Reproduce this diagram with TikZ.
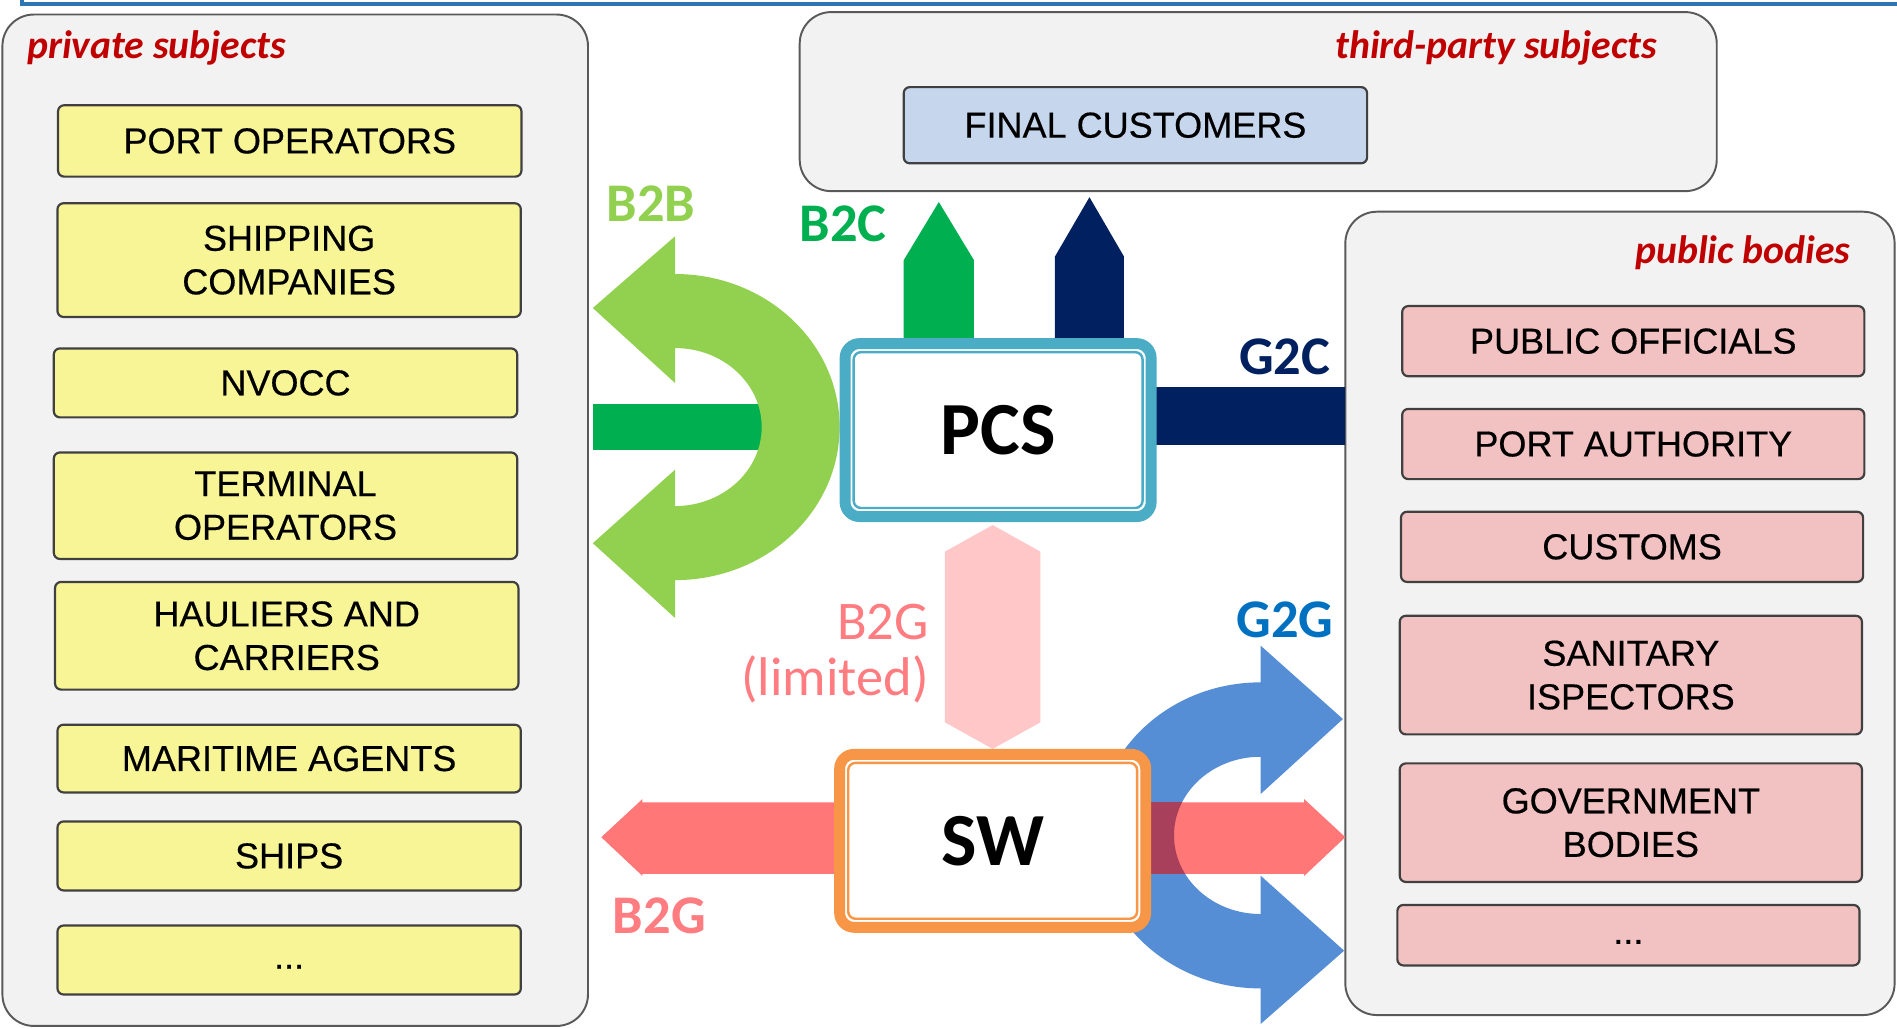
\documentclass[tikz,border=0pt]{standalone}
\usepackage{fontspec}
\setmainfont{Liberation Sans}
\newfontfamily\calibri{Carlito}

\definecolor{panelgray}{HTML}{F2F2F2}
\definecolor{titlered}{HTML}{C00000}
\definecolor{privyellow}{HTML}{F7F596}
\definecolor{pubpink}{HTML}{F2C1C1}
\definecolor{custblue}{HTML}{C6D6EC}
\definecolor{pcsblue}{HTML}{4BACC6}
\definecolor{sworange}{HTML}{F79646}
\definecolor{b2bgreen}{HTML}{92D050}
\definecolor{b2cgreen}{HTML}{00B050}
\definecolor{navy}{HTML}{002060}
\definecolor{b2gred}{HTML}{FF7777}
\definecolor{b2gpink}{HTML}{FFC7C7}
\definecolor{b2gtext}{HTML}{FF7C80}
\definecolor{g2gblue}{HTML}{558ED5}
\definecolor{g2glabel}{HTML}{0070C0}
\definecolor{overlap}{HTML}{A8405C}
\definecolor{frameblue}{HTML}{2E75B6}

\tikzset{
  panel/.style={draw=black!65, fill=panelgray, line width=0.8pt, rounded corners=13pt},
  paneltitle/.style={text=titlered, inner sep=0pt,
    font=\calibri\bfseries\itshape\fontsize{16.4}{19}\selectfont},
  entity/.style={draw=black!75, line width=0.9pt, rounded corners=2.5pt, align=center,
    inner sep=0pt, font=\addfontfeature{FakeBold=0.4}\fontsize{14.9}{18}\selectfont},
  privbox/.style={entity, fill=privyellow, minimum width=191.5pt},
  pubbox/.style={entity, fill=pubpink, minimum width=191pt},
  flowlabel/.style={inner sep=0pt, font=\calibri\bfseries\fontsize{22.5}{26}\selectfont},
  hub/.style={fill=white, line width=4.5pt, outer sep=0pt, rounded corners=6pt,
    minimum width=126.5pt, minimum height=71.5pt,
    font=\calibri\bfseries\fontsize{31}{36}\selectfont},
}

\begin{document}
\begin{tikzpicture}[x=0.5pt, y=-0.5pt]
  \path[use as bounding box, fill=white] (0,0) rectangle (1568,850);
  % frame line along the top
  \draw[frameblue, line width=1.7pt] (18,-5) -- (18,3) -- (1575,3);

  % panels
  \draw[panel] (2,12) rectangle (486,848);
  \draw[panel] (661,10) rectangle (1419,158);
  \draw[panel] (1112,175) rectangle (1566,839);
  \node[paneltitle, anchor=west] (privt) at (22,40) {private subjects};
  \node[paneltitle, anchor=east] (thirdt) at (1370,40) {third-party subjects};
  \node[paneltitle, anchor=east] (pubt) at (1530,209) {public bodies};

  % private subjects
  \node[privbox, minimum height=29.5pt] (portop) at (239.5,116.5) {PORT OPERATORS};
  \node[privbox, minimum height=47pt] (shipco) at (239,215) {SHIPPING\\COMPANIES};
  \node[privbox, minimum height=28.5pt] (nvocc) at (236,316.5) {NVOCC};
  \node[privbox, minimum height=44pt] (termop) at (236,418) {TERMINAL\\OPERATORS};
  \node[privbox, minimum height=44.5pt] (haul) at (237,525.5) {HAULIERS AND\\CARRIERS};
  \node[privbox, minimum height=28pt] (agents) at (239,627) {MARITIME AGENTS};
  \node[privbox, minimum height=28.5pt] (ships) at (239,707.5) {SHIPS};
  \node[privbox, minimum height=28.5pt] (privmore) at (239,793.5) {\strut...};

  % third-party subjects
  \node[entity, fill=custblue, minimum width=191.5pt, minimum height=31.5pt] (final) at (938.5,103.5) {FINAL CUSTOMERS};

  % public bodies
  \node[pubbox, minimum height=29pt] (officials) at (1350,282) {PUBLIC OFFICIALS};
  \node[pubbox, minimum height=29pt] (authority) at (1350,367) {PORT AUTHORITY};
  \node[pubbox, minimum height=29pt] (customs) at (1349,452) {CUSTOMS};
  \node[pubbox, minimum height=49pt] (sanitary) at (1348,558) {SANITARY\\ISPECTORS};
  \node[pubbox, minimum height=49pt] (govt) at (1348,680) {GOVERNMENT\\BODIES};
  \node[pubbox, minimum height=25pt] (pubmore) at (1346,773) {\strut...};

  % B2B and B2C
  \fill[b2cgreen] (490,333.7) rectangle (640,372.2);
  \fill[b2bgreen] (558,195.3) -- (490,254.6) -- (558,316.6) -- (558,287.7)
    arc[start angle=-90, end angle=90, x radius=71.6, y radius=65.3]
    -- (558,388.2) -- (490,449) -- (558,510.8) -- (558,479.5)
    arc[start angle=90, end angle=-90, x radius=136, y radius=126.5] -- cycle;
  \fill[b2cgreen] (747,300) -- (747,215) -- (776,167) -- (805,215) -- (805,300) -- cycle;
  \fill[navy] (872,300) -- (872,212) -- (900.5,163) -- (929,212) -- (929,300) -- cycle;
  \fill[navy] (940,320) rectangle (1112,368);
  \fill[b2gpink] (820.5,434) -- (860,456) -- (860,597) -- (820.5,619) -- (781,597) -- (781,456) -- cycle;

  % G2G and B2G
  \fill[g2gblue] (1042,533.7) -- (1110,594.3) -- (1042,656.3) -- (1042,625.5)
    arc[start angle=-90, end angle=-270, x radius=71.6, y radius=65]
    -- (1042,723.8) -- (1111,785.8) -- (1042,846.4) -- (1042,817)
    arc[start angle=90, end angle=270, x radius=136, y radius=126.5] -- cycle;
  \fill[b2gred] (497,692) -- (531,660.5) -- (531,663.2) -- (1078,663.2) -- (1078,660.5)
    -- (1112,692) -- (1078,724) -- (1078,722.4) -- (531,722.4) -- (531,724) -- cycle;
  \begin{scope}
    \clip (930,663.2) rectangle (1042,722.4);
    \fill[overlap, even odd rule] (1042,690.5) ellipse[x radius=136, y radius=126.5]
      (1042,690.5) ellipse[x radius=71.6, y radius=65];
  \end{scope}

  % hubs
  \node[hub, draw=pcsblue] (pcs) at (825,355.5) {PCS};
  \draw[pcsblue, line width=1pt, rounded corners=3pt]
    ([shift={(3.55pt,3.55pt)}]pcs.south west) rectangle ([shift={(-3.55pt,-3.55pt)}]pcs.north east);
  \node[hub, draw=sworange] (sw) at (820.5,695) {SW};
  \draw[sworange, line width=1pt, rounded corners=3pt]
    ([shift={(3.55pt,3.55pt)}]sw.south west) rectangle ([shift={(-3.55pt,-3.55pt)}]sw.north east);

  % flow labels
  \node[flowlabel, text=b2bgreen] (b2b) at (538,168) {B2B};
  \node[flowlabel, text=b2cgreen] (b2c) at (697,185) {B2C};
  \node[flowlabel, text=navy] (g2c) at (1062,295) {G2C};
  \node[flowlabel, text=g2glabel] (g2g) at (1062,512) {G2G};
  \node[flowlabel, text=b2gtext] (b2g) at (545,757) {B2G};
  \node[flowlabel, font=\calibri\fontsize{22.5}{23}\selectfont, text=b2gtext, align=right,
    anchor=east] (b2glim) at (768,540) {B2G\\(limited)};
\end{tikzpicture}
\end{document}
